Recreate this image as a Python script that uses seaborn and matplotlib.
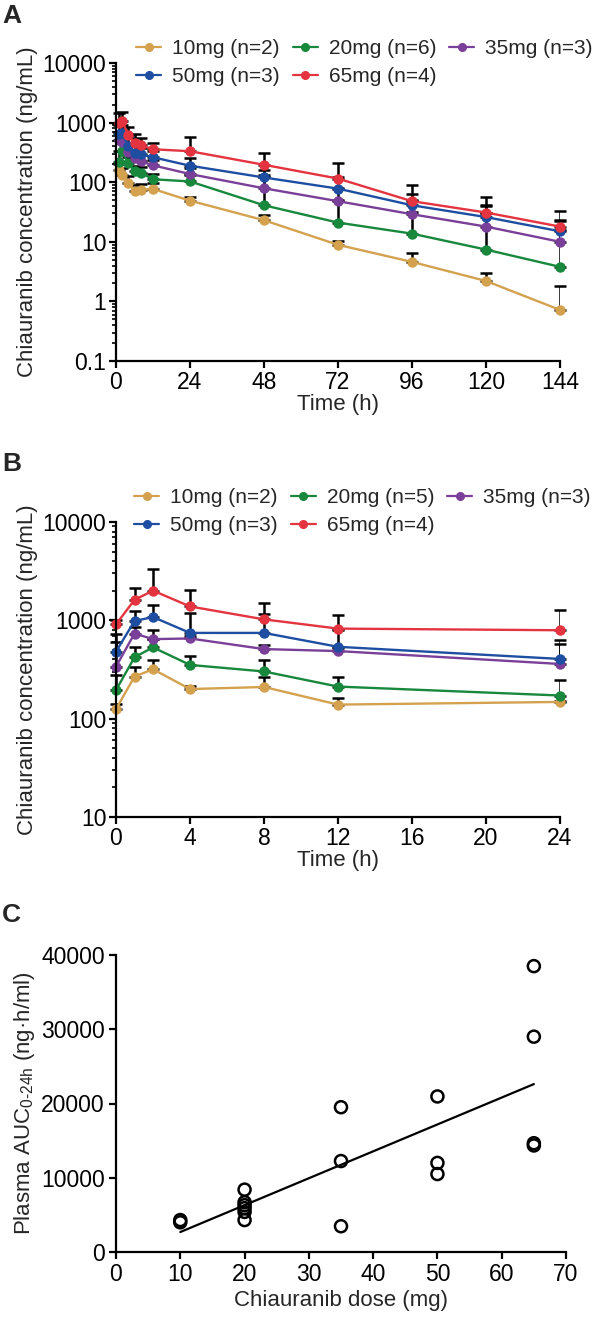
import numpy as np
import pandas as pd
import matplotlib
matplotlib.use("Agg")
import matplotlib.pyplot as plt
from matplotlib.lines import Line2D
from matplotlib.ticker import LogLocator, NullFormatter, FixedLocator
import seaborn as sns

# ---------------- data ----------------
doses = ["10mg", "20mg", "35mg", "50mg", "65mg"]
labels_A = ["10mg (n=2)", "20mg (n=6)", "35mg (n=3)", "50mg (n=3)", "65mg (n=4)"]
labels_B = ["10mg (n=2)", "20mg (n=5)", "35mg (n=3)", "50mg (n=3)", "65mg (n=4)"]
colors = ["#D4A24F", "#17883C", "#7A3F98", "#1D4EA2", "#E3343F"]

time_A = [1, 2, 4, 6, 8, 12, 24, 48, 72, 96, 120, 144]
mean_A_10 = [160, 130, 98, 70, 75, 77, 49, 23, 8.9, 4.6, 2.2, 0.72]
mean_A_20 = [222, 328, 207, 152, 144, 112, 103, 41, 21, 13.7, 7.4, 3.8]
mean_A_35 = [505, 470, 320, 250, 225, 192, 137, 79, 48, 29, 18, 10]
mean_A_50 = [655, 660, 405, 313, 294, 262, 189, 120, 78, 41, 26, 15]
mean_A_65 = [1000, 1060, 615, 446, 418, 357, 331, 196, 115, 48, 31, 18]
sdup_A_10 = [200, 175, 125, 90, 92, 96, 56, 28, 10.5, 6.4, 3.0, 1.8]
sdup_A_20 = [330, 450, 260, 190, 182, 135, 130, 120, 50, 32, 40, 22]
sdup_A_35 = [700, 650, 420, 330, 290, 240, 175, 130, 80, 50, 30, 16]
sdup_A_50 = [900, 900, 560, 420, 380, 340, 250, 160, 120, 63, 41, 23]
sdup_A_65 = [1450, 1500, 830, 650, 560, 460, 580, 305, 207, 90, 56, 33]

time_B = [0, 1, 2, 4, 8, 12, 24]
mean_B_10 = [125, 268, 318, 200, 210, 139, 148]
mean_B_20 = [195, 421, 531, 352, 302, 212, 172]
mean_B_35 = [338, 734, 644, 654, 510, 487, 360]
mean_B_50 = [480, 985, 1080, 745, 745, 538, 405]
mean_B_65 = [910, 1615, 2005, 1384, 1023, 824, 793]
sdup_B_10 = [140, 338, 396, 215, 267, 163, 152]
sdup_B_20 = [280, 531, 650, 434, 396, 265, 249]
sdup_B_35 = [600, 850, 800, 700, 560, 520, 573]
sdup_B_50 = [720, 1232, 1416, 1184, 1170, 800, 630]
sdup_B_65 = [1000, 2115, 3316, 2053, 1507, 1140, 1282]

dose_C = [10, 10, 20, 20, 20, 20, 20, 20, 35, 35, 35, 50, 50, 50, 65, 65, 65, 65]
auc_C = [4300, 4000, 8400, 6700, 6300, 5900, 5400, 4300,
         19500, 12250, 3470, 20950, 12000, 10500, 38500, 29000, 14650, 14350]

# ---------------- style ----------------
sns.set_theme(style="ticks")
plt.rcParams["font.family"] = ["Liberation Sans", "DejaVu Sans"]
plt.rcParams["mathtext.fontset"] = "custom"
plt.rcParams["mathtext.rm"] = "Liberation Sans"
plt.rcParams["mathtext.it"] = "Liberation Sans"
plt.rcParams["axes.linewidth"] = 1.6
plt.rcParams["xtick.major.width"] = 1.6
plt.rcParams["ytick.major.width"] = 1.6
plt.rcParams["ytick.minor.width"] = 1.2
plt.rcParams["xtick.major.size"] = 5
plt.rcParams["ytick.major.size"] = 5
plt.rcParams["ytick.minor.size"] = 3
plt.rcParams["xtick.color"] = "black"
plt.rcParams["ytick.color"] = "black"
plt.rcParams["axes.edgecolor"] = "black"

W, H = 596, 1318
fig = plt.figure(figsize=(W / 100, H / 100), dpi=100)


def add_ax(left, right, top, bottom):
    return fig.add_axes([left / W, 1 - bottom / H, (right - left) / W, (bottom - top) / H])


axA = add_ax(116, 560, 63, 361)
axB = add_ax(116, 560, 522, 817)
axC = add_ax(116, 566, 955, 1252)

TICK_FS = 16.5
LAB_FS = 16
LEG_FS = 15


def pk_panel(ax, times, means, sdups, labels, xmax, xticks, ylim, legend_anchor):
    rows = []
    for lab, m in zip(labels, means):
        for t, v in zip(times, m):
            rows.append({"Time": t, "Conc": v, "Group": lab})
    df = pd.DataFrame(rows)
    # error bars (upper only)
    for m, s in zip(means, sdups):
        m = np.array(m, float)
        s = np.array(s, float)
        ax.errorbar(times, m, yerr=[np.zeros_like(m), s - m], fmt="none",
                    ecolor="black", elinewidth=1.8, capsize=4.5, capthick=1.8, zorder=1.5)
    sns.lineplot(data=df, x="Time", y="Conc", hue="Group", hue_order=labels,
                 palette=colors, marker="o", markersize=7.5, markeredgewidth=0,
                 linewidth=1.7, ax=ax, legend=False, zorder=2, estimator=None)
    ax.set_yscale("log")
    ax.set_ylim(*ylim)
    ax.set_xlim(0, xmax)
    ax.set_xticks(xticks)
    ax.yaxis.set_minor_locator(LogLocator(base=10, subs=np.arange(2, 10), numticks=20))
    ax.yaxis.set_minor_formatter(NullFormatter())
    dec = np.logspace(np.log10(ylim[0]), np.log10(ylim[1]),
                      int(round(np.log10(ylim[1] / ylim[0]))) + 1)
    ax.yaxis.set_major_locator(FixedLocator(dec))
    ax.set_yticklabels([("%g" % d) for d in dec])
    ax.tick_params(axis="both", labelsize=TICK_FS, direction="out", pad=2)
    ax.tick_params(axis="x", which="minor", bottom=False)
    ax.set_xlabel("Time (h)", fontsize=LAB_FS, labelpad=0)
    ax.set_ylabel("Chiauranib concentration (ng/mL)", fontsize=LAB_FS, labelpad=3)
    sns.despine(ax=ax)
    for sp in ax.spines.values():
        sp.set_clip_on(False)
    for ln in ax.lines:
        ln.set_clip_on(False)
    # legend: row-wise order 10,20,35 / 50,65
    handles = [Line2D([], [], color=c, marker="o", markersize=5.5, lw=1.6) for c in colors]
    order = [0, 3, 1, 4, 2]
    ax.legend([handles[i] for i in order], [labels[i] for i in order], ncol=3,
              loc="upper left", bbox_to_anchor=(legend_anchor[0] / W, 1 - legend_anchor[1] / H),
              bbox_transform=fig.transFigure, frameon=False, fontsize=LEG_FS,
              handlelength=1.2, handletextpad=0.55, columnspacing=0.6,
              labelspacing=0.45, borderpad=0, borderaxespad=0)


pk_panel(axA, time_A,
         [mean_A_10, mean_A_20, mean_A_35, mean_A_50, mean_A_65],
         [sdup_A_10, sdup_A_20, sdup_A_35, sdup_A_50, sdup_A_65],
         labels_A, 144, [0, 24, 48, 72, 96, 120, 144], (0.1, 10000), (136, 39))
pk_panel(axB, time_B,
         [mean_B_10, mean_B_20, mean_B_35, mean_B_50, mean_B_65],
         [sdup_B_10, sdup_B_20, sdup_B_35, sdup_B_50, sdup_B_65],
         labels_B, 24, [0, 4, 8, 12, 16, 20, 24], (10, 10000), (134, 488))

# ---------------- panel C ----------------
dfC = pd.DataFrame({"dose": dose_C, "auc": auc_C})
sns.regplot(data=dfC, x="dose", y="auc", ci=None, scatter=False, ax=axC,
            line_kws={"color": "black", "lw": 1.6})
sns.scatterplot(data=dfC, x="dose", y="auc", ax=axC, s=75, facecolor="none",
                edgecolor="black", linewidth=1.8, marker="o", zorder=3)
axC.set_xlim(0, 70)
axC.set_ylim(0, 40000)
axC.set_xticks(range(0, 71, 10))
axC.set_yticks(range(0, 40001, 10000))
axC.tick_params(axis="both", labelsize=TICK_FS, direction="out", pad=3)
axC.set_xlabel("Chiauranib dose (mg)", fontsize=LAB_FS, labelpad=3)
axC.set_ylabel(r"Plasma AUC$_{\mathregular{0\text{-}24h}}$ (ng·h/ml)", fontsize=LAB_FS, labelpad=3)
sns.despine(ax=axC)
for sp in axC.spines.values():
    sp.set_clip_on(False)
for coll in axC.collections:
    coll.set_clip_on(False)

# panel letters
for txt, y in [("A", 16), ("B", 464), ("C", 915)]:
    fig.text(2 / W, 1 - y / H, txt, fontsize=19, fontweight="bold", va="center", ha="left")

fig.savefig("out.png", dpi=100)
